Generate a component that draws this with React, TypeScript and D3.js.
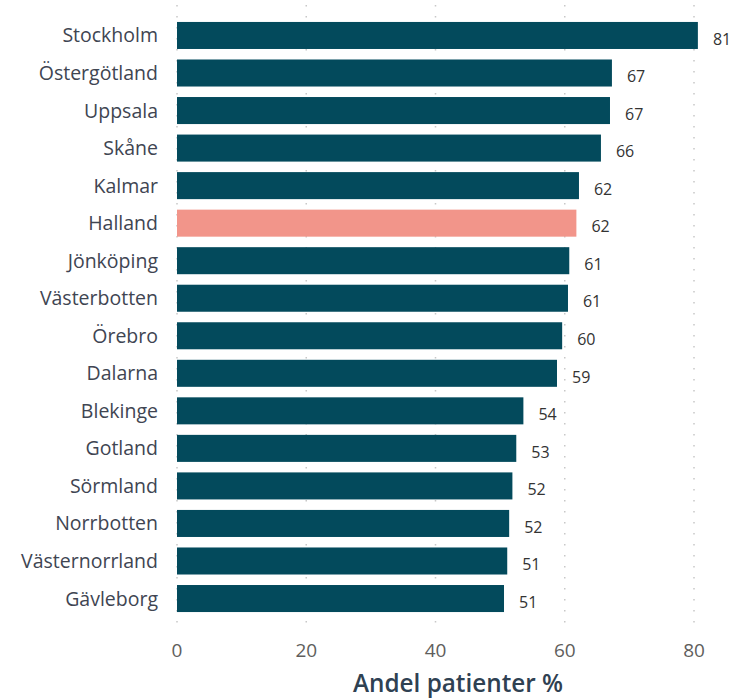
import React from "react";
import * as d3 from "d3";

const regions = ["Stockholm","Östergötland","Uppsala","Skåne","Kalmar","Halland","Jönköping","Västerbotten","Örebro","Dalarna","Blekinge","Gotland","Sörmland","Norrbotten","Västernorrland","Gävleborg"];
const values = [80.6,67.3,67.0,65.6,62.2,61.8,60.7,60.5,59.6,58.8,53.6,52.5,51.9,51.4,51.1,50.6];
const labels = ["81","67","67","66","62","62","61","61","60","59","54","53","52","52","51","51"];
const highlight = "Halland";
const ticks = [0,20,40,60,80];
const axisTitle = "Andel patienter %";

export default function App() {
  const W = 731, H = 699;
  const x = d3.scaleLinear().domain([0, 80]).range([177, 694]);
  const y = d3.scaleBand<string>().domain(regions).range([16.7, 617.3]).paddingInner(0.28).paddingOuter(0.14);
  const font = "'Open Sans', 'Noto Sans', sans-serif";
  return (
    <svg width={W} height={H} style={{ position: "absolute", left: 0, top: 0, background: "#fff" }}>
      {ticks.map(t => (
        <line key={"g"+t} x1={x(t)} x2={x(t)} y1={5} y2={630} stroke="#c8c8c8" strokeWidth={1.5} strokeDasharray="1.5 9.5" />
      ))}
      {regions.map((r, i) => (
        <g key={r}>
          <rect x={x(0)} y={y(r)} width={x(values[i]) - x(0)} height={y.bandwidth()} fill={r === highlight ? "#F2958A" : "#034A5C"} />
          <text x={158} y={(y(r) as number) + y.bandwidth() / 2} dy="0.36em" textAnchor="end" fontFamily={font} fontSize={19.5} fill="#404552">{r}</text>
          <text x={x(values[i]) + 15} y={(y(r) as number) + y.bandwidth() / 2 + 3.5} dy="0.36em" fontFamily={font} fontSize={16} fill="#333">{labels[i]}</text>
        </g>
      ))}
      {ticks.map(t => (
        <text key={"t"+t} x={x(t)} y={650} dy="0.36em" textAnchor="middle" fontFamily={font} fontSize={19} fill="#605E5C">{t}</text>
      ))}
      <text x={458} y={683} dy="0.36em" textAnchor="middle" fontFamily={font} fontSize={24.3} fontWeight={600} fill="#2f4152">{axisTitle}</text>
    </svg>
  );
}
